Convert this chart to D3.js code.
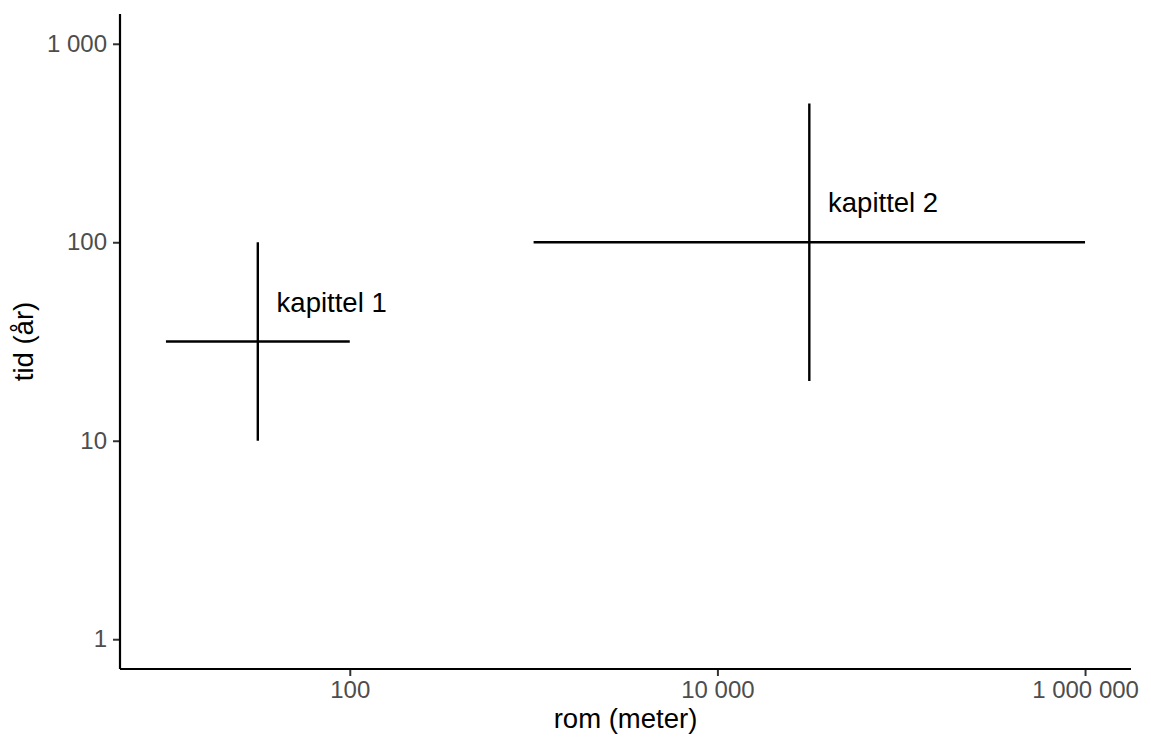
<!DOCTYPE html>
<html>
<head>
<meta charset="utf-8">
<script src="https://cdn.jsdelivr.net/npm/d3@7"></script>
<style>
  html, body { margin: 0; padding: 0; background: #fff; }
  svg { display: block; font-family: "Liberation Sans", Arial, sans-serif; }
</style>
</head>
<body>
<svg id="chart" width="1151" height="738"></svg>
<script>
// ---- data ----
const chapters = ["kapittel 1", "kapittel 2"];
const spaceMin = [10, 1000];
const spaceMax = [100, 1000000];
const spaceMid = [31.6, 31623];
const timeMin = [10, 20];
const timeMax = [100, 500];
const timeMid = [31.6, 100];
const labelSpace = [40, 40000];
const labelTime = [50, 158];

const xTicks = [100, 10000, 1000000];
const xTickLabels = ["100", "10 000", "1 000 000"];
const yTicks = [1, 10, 100, 1000];
const yTickLabels = ["1", "10", "100", "1 000"];

const xTitle = "rom (meter)";
const yTitle = "tid (år)";

// ---- layout ----
const mLeft = 120, mRight = 1131, mTop = 14, mBottom = 669;

const svg = d3.select("#chart");

const x = d3.scaleLog()
  .domain([Math.pow(10, 0.75), Math.pow(10, 6.25)])
  .range([mLeft, mRight]);
const y = d3.scaleLog()
  .domain([Math.pow(10, -0.15), Math.pow(10, 3.15)])
  .range([mBottom, mTop]);

const data = chapters.map((c, i) => ({
  name: c,
  x0: spaceMin[i], x1: spaceMax[i], xm: spaceMid[i],
  y0: timeMin[i], y1: timeMax[i], ym: timeMid[i],
  lx: labelSpace[i], ly: labelTime[i]
}));

// axes
const xAxis = d3.axisBottom(x)
  .tickValues(xTicks)
  .tickFormat((d, i) => xTickLabels[i])
  .tickSize(7).tickPadding(5).tickSizeOuter(0);
const yAxis = d3.axisLeft(y)
  .tickValues(yTicks)
  .tickFormat((d, i) => yTickLabels[i])
  .tickSize(7).tickPadding(6).tickSizeOuter(0);

const gx = svg.append("g").attr("transform", `translate(0,${mBottom})`).call(xAxis);
const gy = svg.append("g").attr("transform", `translate(${mLeft},0)`).call(yAxis);

[gx, gy].forEach(g => {
  g.select(".domain").remove();
  g.selectAll(".tick line").attr("stroke", "#333333").attr("stroke-width", 2);
  g.selectAll(".tick text")
    .attr("fill", "#4d4d4d")
    .style("font-size", "24px")
    .style("font-family", '"Liberation Sans", Arial, sans-serif');
});
gx.selectAll(".tick text").attr("dy", "0.72em");

// axis lines
svg.append("line")
  .attr("x1", mLeft).attr("x2", mRight)
  .attr("y1", mBottom).attr("y2", mBottom)
  .attr("stroke", "#000").attr("stroke-width", 2.2);
svg.append("line")
  .attr("x1", mLeft).attr("x2", mLeft)
  .attr("y1", mTop).attr("y2", mBottom)
  .attr("stroke", "#000").attr("stroke-width", 2.2);

// crosses
const g = svg.append("g");
g.selectAll("line.h").data(data).enter().append("line")
  .attr("class", "h")
  .attr("x1", d => x(d.x0)).attr("x2", d => x(d.x1))
  .attr("y1", d => y(d.ym)).attr("y2", d => y(d.ym))
  .attr("stroke", "#000").attr("stroke-width", 2.4);
g.selectAll("line.v").data(data).enter().append("line")
  .attr("class", "v")
  .attr("x1", d => x(d.xm)).attr("x2", d => x(d.xm))
  .attr("y1", d => y(d.y0)).attr("y2", d => y(d.y1))
  .attr("stroke", "#000").attr("stroke-width", 2.4);

g.selectAll("text.lab").data(data).enter().append("text")
  .attr("class", "lab")
  .attr("x", d => x(d.lx))
  .attr("y", d => y(d.ly))
  .attr("dy", "0.35em")
  .attr("text-anchor", "start")
  .attr("fill", "#000")
  .style("font-size", "27.5px")
  .text(d => d.name);

// titles
svg.append("text")
  .attr("x", (mLeft + mRight) / 2)
  .attr("y", 728)
  .attr("text-anchor", "middle")
  .attr("fill", "#000")
  .style("font-size", "27.5px")
  .text(xTitle);
svg.append("text")
  .attr("transform", `translate(33,${(mTop + mBottom) / 2}) rotate(-90)`)
  .attr("text-anchor", "middle")
  .attr("fill", "#000")
  .style("font-size", "27.5px")
  .text(yTitle);
</script>
</body>
</html>
